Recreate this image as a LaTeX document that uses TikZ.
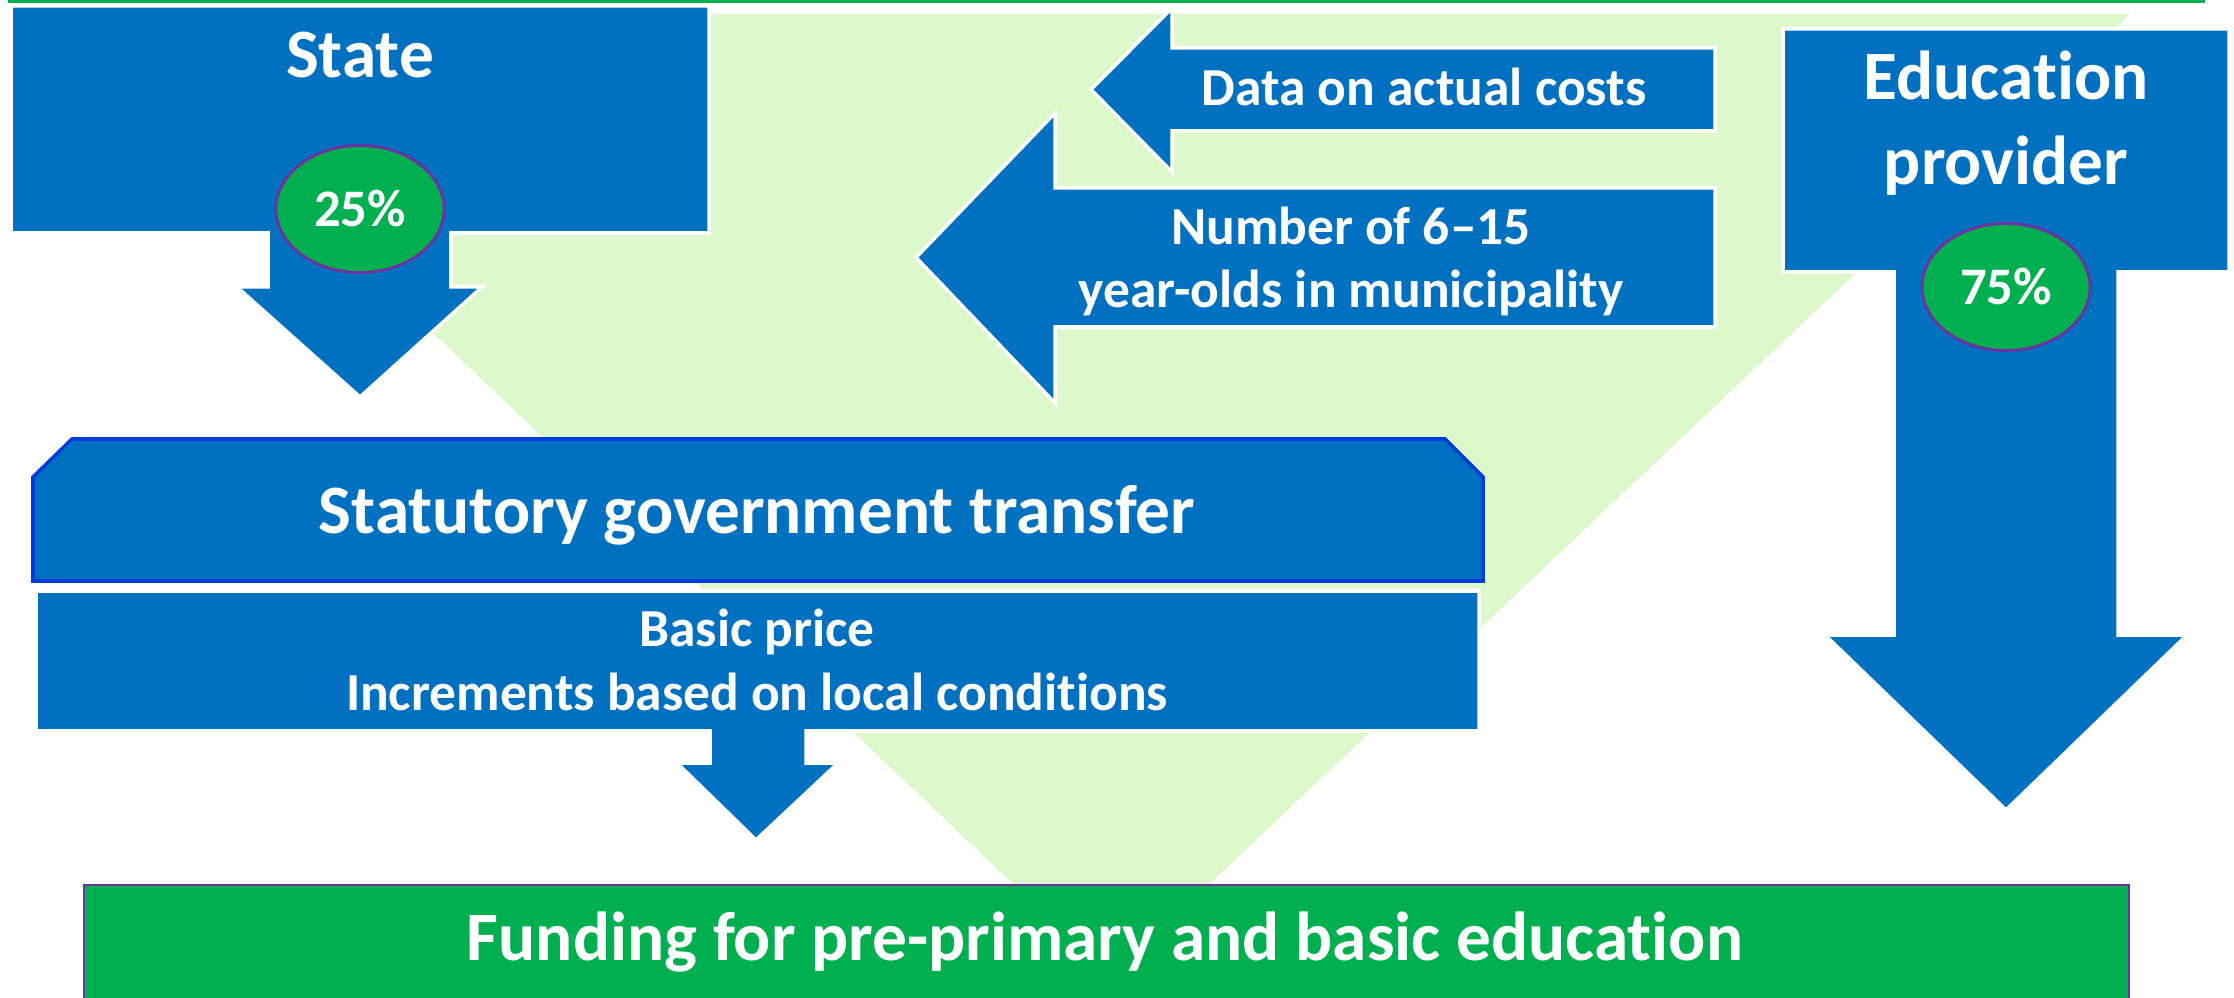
\documentclass[tikz,border=0pt]{standalone}
\usepackage{fontspec}
\setmainfont{Carlito}[Ligatures=NoCommon,RawFeature={-liga;-clig;-calt;-dlig}]
\usetikzlibrary{shapes.geometric}
\definecolor{myblue}{RGB}{0,112,192}
\definecolor{mygreen}{RGB}{0,176,80}
\definecolor{palegreen}{RGB}{221,249,204}
\definecolor{mypurple}{RGB}{112,48,160}
\definecolor{borderblue}{RGB}{0,60,220}
\begin{document}
\begin{tikzpicture}[x=0.01cm,y=-0.01cm,
  bluearrow/.style={fill=myblue,draw=white,line width=1pt},
  oval/.style={ellipse,fill=mygreen,draw=mypurple,line width=0.8pt,minimum width=1.68cm,minimum height=1.27cm,inner sep=0pt},
  bigtext/.style={text=white,font=\bfseries\fontsize{19.7}{23}\selectfont,anchor=base,inner sep=0pt},
  midtext/.style={text=white,font=\bfseries\fontsize{15.2}{18}\selectfont,anchor=base,inner sep=0pt},
  pcttext/.style={text=white,font=\bfseries\fontsize{15}{18}\selectfont}]
\useasboundingbox (0,0) rectangle (2234,998);
\fill[white] (0,0) rectangle (2234,998);
% top green line
\draw[mygreen,line width=0.9pt] (8,1.5) -- (2205,1.5);
% pale funnel
\fill[palegreen] (97,14) -- (2130,14) -- (1111,977) -- cycle;
% State arrow
\draw[bluearrow] (11,6) -- (709,6) -- (709,233) -- (451,233) -- (451,287) -- (482,287) -- (360,397) -- (237,287) -- (268,287) -- (268,233) -- (11,233) -- cycle;
% Education provider arrow
\draw[bluearrow] (1783,29) -- (2229,29) -- (2229,272) -- (2118,272) -- (2118,635) -- (2187,635) -- (2006,810) -- (1825,635) -- (1894,635) -- (1894,272) -- (1783,272) -- cycle;
% Data arrow
\draw[bluearrow] (1715,48) -- (1172,48) -- (1172,8) -- (1091,89.5) -- (1172,172) -- (1172,131) -- (1715,131) -- cycle;
% Number arrow
\draw[bluearrow] (1715,188) -- (1055,188) -- (1055,113) -- (916,257.5) -- (1055,403) -- (1055,327) -- (1715,327) -- cycle;
% Statutory box
\draw[fill=myblue,draw=borderblue,line width=1pt] (33,477) -- (72,439) -- (1445,439) -- (1483,477) -- (1483,581) -- (33,581) -- cycle;
% Basic price box with arrow
\draw[bluearrow] (36,591) -- (1479,591) -- (1479,731) -- (806,731) -- (806,763) -- (838,763) -- (756,840) -- (677,763) -- (710,763) -- (710,731) -- (36,731) -- cycle;
% Funding box
\draw[fill=mygreen,draw=mypurple,line width=0.8pt] (84,885) rectangle (2129,1010);

% texts
\node[bigtext] (state) at (360,78) {State};
\node[oval] (p25) at (360,209) {};
\node[pcttext] (p25t) at (p25.center) {25\%};
\node[bigtext] (edu1) at (2006,100) {Education};
\node[bigtext] (edu2) at (2006,185) {provider};
\node[oval] (p75) at (2006,287) {};
\node[pcttext] (p75t) at (p75.center) {75\%};
\node[midtext] (data) at (1424,106) {Data on actual costs};
\node[midtext] (num1) at (1351,245) {Number of 6–15};
\node[midtext] (num2) at (1351,308) {year-olds in municipality};
\node[bigtext] (stat) at (757,534) {Statutory government transfer};
\node[midtext] (basic) at (757,647) {Basic price};
\node[midtext] (incr) at (757,711) {Increments based on local conditions};
\node[bigtext] (fund) at (1105,960) {Funding for pre-primary and basic education};
\end{tikzpicture}
\end{document}
